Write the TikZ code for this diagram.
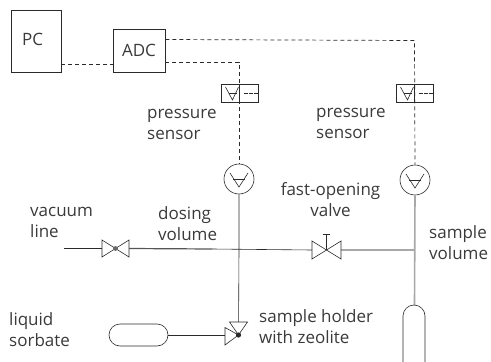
\documentclass[tikz,border=0pt]{standalone}
\usepackage{fontspec}
\setmainfont{Open Sans}
\usepackage{xcolor}
\usepackage{tikz}
\usetikzlibrary{positioning,calc}
\definecolor{ink}{HTML}{2A2A2A}
\definecolor{txt}{HTML}{3A3A3A}
\definecolor{pipe}{HTML}{A8A8A8}
\tikzset{
  blk/.style={rectangle,draw=ink,line width=0.9pt,inner sep=0pt,font=\fontsize{17}{20}\selectfont,text=txt},
  lbl/.style={font=\fontsize{17}{21}\selectfont,text=txt,align=left,inner sep=0pt},
  sig/.style={dash pattern=on 4pt off 3pt,draw=ink,line width=0.7pt},
  ar/.style={draw=ink,line width=0.6pt},
  arg/.style={draw=pipe,line width=1.6pt},
  ard/.style={draw=ink!80,line width=1.2pt},
  tri/.style={draw=ink,line width=0.6pt,fill=white,line join=miter},
  tank/.style={rectangle,draw=ink,line width=0.6pt,inner sep=0pt},
  gauge/.style={circle,draw=ink,line width=0.6pt,minimum size=30pt,inner sep=0pt},
  cell/.style={rectangle,draw=ink,line width=0.6pt,minimum width=37pt,minimum height=18pt,inner sep=0pt},
}
\begin{document}
\begin{tikzpicture}[x=1pt,y=-1pt]
  \useasboundingbox (0,0) rectangle (491,362);
  \clip (0,0) rectangle (491,362);
  % boxes
  \node[blk,minimum width=50pt,minimum height=62pt] (pc) at (36,41) {};
  \node[blk,minimum width=52pt,minimum height=43pt] (adc) at (139,50.5) {ADC};
  \node[font=\fontsize{17}{20}\selectfont,text=txt,inner sep=0pt] (pclab) at (32.5,39.5) {PC};
  % pressure sensors
  \node[cell] (s1) at (239.5,93) {};
  \node[cell] (s2) at (414.5,93) {};
  \node[gauge] (g1) at (239,179) {};
  \node[gauge] (g2) at (415,180) {};
  \foreach \s in {s1,s2} {
    \draw[ar] ($(\s)+(-14,-6)$)--($(\s)+(-7,7)$)--($(\s)+(-1,-6)$);
    \draw[ar] ($(\s)+(-11,0)$)--($(\s)+(-3,0)$);
    \draw[line width=1.6pt,draw=ink,dash pattern=on 1.3pt off 0.4pt] ($(\s)+(4,0.5)$)--($(\s)+(18,0.5)$);
  }
  \foreach \g in {g1,g2} {
    \draw[ar] ($(\g)+(-9,-6)$)--($(\g)+(0,8)$)--($(\g)+(9,-6)$);
    \draw[ar] ($(\g)+(-6,0)$)--($(\g)+(6,0)$);
  }
  % junctions and valves
  \coordinate (j1) at (239,249);
  \coordinate (j2) at (414.5,250);
  \coordinate (vac) at (64,248.5);
  \coordinate (v1) at (115.5,248.5);
  \coordinate (v2) at (326.5,250);
  \coordinate (v3) at (238.5,335);
  \coordinate (t1) at (129,248.5);
  \coordinate (t2) at (212,249);
  \coordinate (t3) at (312,250);
  \coordinate (t4) at (341,250);
  % signal lines
  \draw[sig] (pc.east |- 0,64)--(adc.west |- 0,64);
  \draw[sig] (adc.east |- 0,39.5)--(s2.center |- 0,40.5)--(g2.north);
  \draw[sig] (adc.east |- 0,62)--(239,62)--(g1.north);
  \draw[ar] (s1.north)--(s1.south);
  \draw[ar,line width=0.9pt] (s2.north)--(s2.south);
  % pipes
  \draw[ar] (vac)--(v1);
  \draw[ard] (t1)--(t2);
  \draw[ar] (t2)--(t3);
  \draw[arg] (t4)--(j2);
  \draw[ar] (g1.south)--(j1)--(v3);
  \draw[arg] (g2.south)--(414.5,305);
  % tanks
  \node[tank,rounded corners=11pt,minimum width=59pt,minimum height=22pt] (sorb) at (138.5,335) {};
  \draw[ar,rounded corners=11pt] (403,372)--(403,305)--(425,305)--(425,372);
  \draw[ar] (sorb.east)--(v3);
  % valve triangles
  \draw[tri] (v1)--(102,240)--(102,257)--cycle;
  \draw[tri] (v1)--(129,240)--(129,257)--cycle;
  \fill[ink!70] (v1) circle (2.4pt);
  \draw[tri] (v2)--(312,241)--(312,259)--cycle;
  \draw[tri] (v2)--(341,241)--(341,259)--cycle;
  \draw[ar] (v2)--(326.5,234.5) (323,234.5)--(330,234.5);
  \draw[tri] (v3)--(229.5,322)--(247.5,322)--cycle;
  \draw[tri] (v3)--(225,327.5)--(225,345)--cycle;
  \fill[ink] (v3) circle (2.6pt);
  % labels
  \node[lbl,anchor=west] (lp1) at (147,124) {pressure\\sensor};
  \node[lbl,anchor=west] (lp2) at (316,123) {pressure\\sensor};
  \node[lbl,anchor=west] (lvac) at (30,222.5) {vacuum\\line};
  \node[lbl,anchor=west] (ldos) at (158,224) {dosing\\volume};
  \node[lbl,align=center] (lfast) at (330.5,200) {fast-opening\\valve};
  \node[lbl,anchor=west] (lsam) at (429,243) {sample\\volume};
  \node[lbl,anchor=west] (lliq) at (9,330) {liquid\\sorbate};
  \node[lbl,anchor=west] (lhold) at (259,326.5) {sample holder\\with zeolite};
\end{tikzpicture}
\end{document}
